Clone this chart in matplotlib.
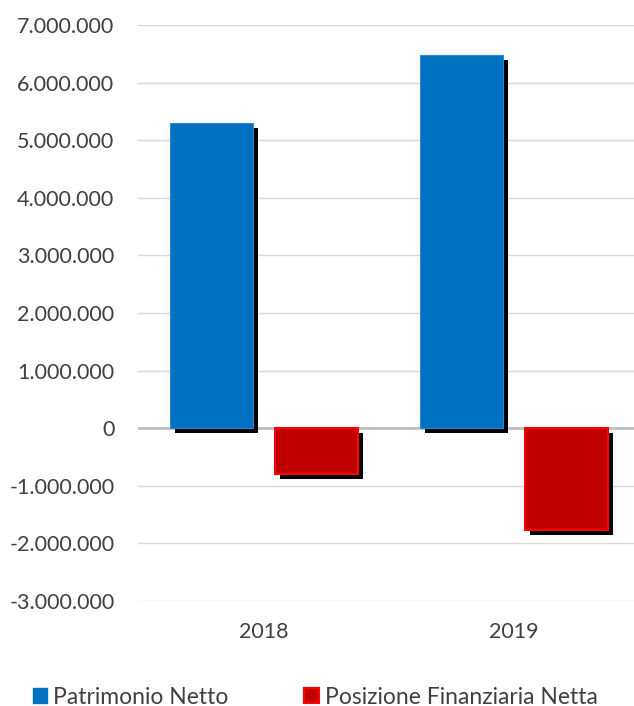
import matplotlib
matplotlib.use("Agg")
import matplotlib.pyplot as plt
import matplotlib.patheffects as pe
from matplotlib.patches import Patch
from matplotlib.ticker import FuncFormatter, MultipleLocator
import numpy as np

years = ["2018", "2019"]
patrimonio_netto = [5310000, 6480000]
posizione_finanziaria = [-800000, -1770000]
series_labels = ["Patrimonio Netto", "Posizione Finanziaria Netta"]

plt.rcParams["font.family"] = ["Lato", "DejaVu Sans"]
text_color = "#404040"

fig = plt.figure(figsize=(6.34, 7.06), dpi=100)
ax = fig.add_axes([138 / 634, 1 - 600.7 / 706, 1 - 138 / 634, (600.7 - 25.3) / 706])

x = np.arange(len(years))
width = 0.334
offset = 0.21

shadow = [pe.SimplePatchShadow(offset=(3.6, -3.6), shadow_rgbFace="black", alpha=1.0), pe.Normal()]

b1 = ax.bar(x - offset, patrimonio_netto, width, color="#0070C0", edgecolor="#2E86D0",
            linewidth=0.8, zorder=3)
b2 = ax.bar(x + offset, posizione_finanziaria, width, color="#C00000", edgecolor="#FF0000",
            linewidth=1.5, zorder=3)
for bar in list(b1) + list(b2):
    bar.set_path_effects(shadow)

ax.set_ylim(-3000000, 7000000)
ax.set_xlim(-0.504, 1.48)
ax.yaxis.set_major_locator(MultipleLocator(1000000))
ax.yaxis.set_major_formatter(FuncFormatter(lambda v, p: f"{int(round(v)):,}".replace(",", ".")))
ax.grid(axis="y", color="#D9D9D9", linewidth=1.0, zorder=0)
ax.axhline(0, color="#BFBFBF", linewidth=2.0, zorder=2)

ax.set_xticks(x)
ax.set_xticklabels(years)
ax.tick_params(axis="both", length=0, labelsize=15.5, colors=text_color)
ax.tick_params(axis="y", pad=17)
ax.tick_params(axis="x", pad=15)
for s in ax.spines.values():
    s.set_visible(False)

handles = [Patch(facecolor="#0070C0", edgecolor="#0070C0"),
           Patch(facecolor="#C00000", edgecolor="#FF0000", linewidth=1.5)]
fig.legend(handles, series_labels, loc="center", bbox_to_anchor=(0.497, 1 - 697 / 706),
           ncol=2, frameon=False, fontsize=16.5, handlelength=0.65, handleheight=0.65,
           handletextpad=0.25, columnspacing=3.3, labelcolor=text_color)

fig.savefig("out.png", dpi=100)
